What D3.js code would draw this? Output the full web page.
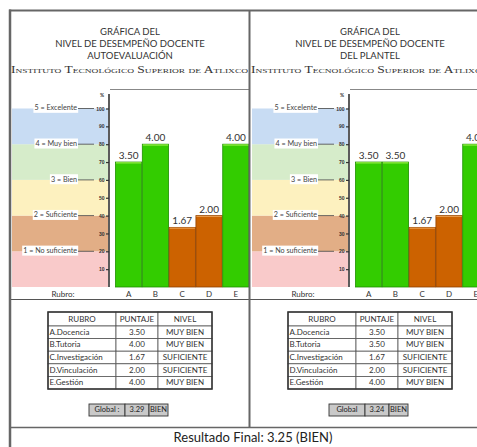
<!DOCTYPE html>
<html lang="es">
<head>
<meta charset="UTF-8" />
<script src="https://d3js.org/d3.v7.min.js"></script>
<style>
  body { margin: 0; background: #fff; }
  svg { display: block; font-family: Lato, "Open Sans", sans-serif; }
</style>
</head>
<body>
<svg id="chart" width="477" height="447"></svg>
<script>
  // data
  const rubros = ["A", "B", "C", "D", "E"];
  const rubroNames = ["A.Docencia", "B.Tutoria", "C.Investigación", "D.Vinculación", "E.Gestión"];
  const autoScores = [3.50, 4.00, 1.67, 2.00, 4.00];
  const autoLevels = ["MUY BIEN", "MUY BIEN", "SUFICIENTE", "SUFICIENTE", "MUY BIEN"];
  const plantelScores = [3.50, 3.50, 1.67, 2.00, 4.00];
  const plantelLevels = ["MUY BIEN", "MUY BIEN", "SUFICIENTE", "SUFICIENTE", "MUY BIEN"];
  const scaleLabels = ["1 = No suficiente", "2 = Suficiente", "3 = Bien", "4 = Muy bien", "5 = Excelente"];
  const scalePercents = [20, 40, 60, 80, 100];
  const yTicks = [10, 20, 30, 40, 50, 60, 70, 80, 90, 100];
  const tableHeader = ["RUBRO", "PUNTAJE", "NIVEL"];
  const globalLabels = ["Global :", "Global"];
  const globalScores = [3.29, 3.24];
  const globalLevels = ["BIEN", "BIEN"];
  const finalScore = 3.25;
  const finalLevel = "BIEN";
  const panelTitles = [
    ["GRÁFICA DEL", "NIVEL DE DESEMPEÑO DOCENTE", "AUTOEVALUACIÓN"],
    ["GRÁFICA DEL", "NIVEL DE DESEMPEÑO DOCENTE", "DEL PLANTEL"]
  ];
  const institute = "Instituto Tecnológico Superior de Atlixco";

  const svg = d3.select("#chart");
  const fmt = d3.format(".2f");
  const bandColors = ["#f9caca", "#e2ae86", "#fdf1bf", "#d6ecca", "#c8dcf3"];
  const levelColor = d3.scaleOrdinal().domain(["MUY BIEN", "SUFICIENTE"]).range(["#33cc00", "#cc6200"]);
  const levelEdge = d3.scaleOrdinal().domain(["MUY BIEN", "SUFICIENTE"]).range(["#1f8f00", "#8f4200"]);
  const levelTop = d3.scaleOrdinal().domain(["MUY BIEN", "SUFICIENTE"]).range(["#9df04a", "#e89a4a"]);

  const panelW = 239;
  const y = d3.scaleLinear().domain([0, 100]).range([287, 108.5]);
  const x = d3.scaleBand().domain(rubros).range([105.5, 239]).paddingInner(0.02);

  svg.append("defs").append("clipPath").attr("id", "panelClip")
    .append("rect").attr("x", 0).attr("y", 0).attr("width", panelW).attr("height", 447);

  function drawPanel(i, scores, levels) {
    const g = svg.append("g")
      .attr("transform", `translate(${10 + i * 240},0)`)
      .attr("clip-path", "url(#panelClip)");

    // titles
    panelTitles[i].forEach((t, k) => {
      g.append("text").attr("x", 120).attr("y", 35 + k * 12)
        .attr("text-anchor", "middle").attr("font-size", 9.5).attr("fill", "#333").text(t);
    });
    g.append("text").attr("x", 1).attr("y", 73)
      .attr("font-family", "'Liberation Serif', serif").attr("font-variant", "small-caps")
      .attr("font-size", 10).attr("fill", "#333")
      .attr("textLength", 237).attr("lengthAdjust", "spacingAndGlyphs")
      .text(institute);

    // colour bands
    scalePercents.forEach((p, k) => {
      g.append("rect").attr("x", 2).attr("width", 96)
        .attr("y", y(p)).attr("height", y(p - 20) - y(p))
        .attr("fill", bandColors[k]);
    });

    // plot top frame
    g.append("line").attr("x1", 100).attr("x2", panelW).attr("y1", 89.5).attr("y2", 89.5)
      .attr("stroke", "#888").attr("stroke-width", 1);

    // level labels with leader lines
    scalePercents.forEach((p, k) => {
      const t = g.append("text").attr("x", 67).attr("y", y(p))
        .attr("text-anchor", "end").attr("dominant-baseline", "middle")
        .attr("font-size", 7.2).attr("fill", "#444").text(scaleLabels[k]);
      const b = t.node().getBBox();
      g.insert("rect", () => t.node()).attr("x", b.x - 1).attr("y", b.y - 0.5)
        .attr("width", b.width + 2).attr("height", b.height + 1).attr("fill", "#fff");
      g.append("line").attr("x1", 68).attr("x2", 84).attr("y1", y(p)).attr("y2", y(p))
        .attr("stroke", "#444").attr("stroke-width", 0.8);
    });

    // y axis
    const axis = g.append("g").attr("transform", "translate(99,0)")
      .call(d3.axisLeft(y).tickValues(yTicks).tickSize(3).tickPadding(1.5));
    axis.select(".domain").remove();
    axis.selectAll("text").attr("font-size", 5).attr("font-weight", "bold").attr("fill", "#333");
    axis.selectAll("line").attr("stroke", "#333").attr("stroke-width", 1.2);
    g.append("line").attr("x1", 99).attr("x2", 99).attr("y1", 94).attr("y2", 287)
      .attr("stroke", "#333").attr("stroke-width", 1.6);
    g.append("text").attr("x", 90).attr("y", 97).attr("font-size", 5)
      .attr("font-weight", "bold").attr("fill", "#333").text("%");

    // bars
    const data = rubros.map((r, k) => ({ r, v: scores[k], lvl: levels[k] }));
    g.selectAll("rect.bar").data(data).join("rect").attr("class", "bar")
      .attr("x", d => x(d.r)).attr("width", x.bandwidth())
      .attr("y", d => y(d.v * 20)).attr("height", d => y(0) - y(d.v * 20))
      .attr("fill", d => levelColor(d.lvl))
      .attr("stroke", d => levelEdge(d.lvl)).attr("stroke-width", 0.8);
    g.selectAll("line.bartop").data(data).join("line").attr("class", "bartop")
      .attr("x1", d => x(d.r) + 0.5).attr("x2", d => x(d.r) + x.bandwidth() - 0.5)
      .attr("y1", d => y(d.v * 20) + 0.8).attr("y2", d => y(d.v * 20) + 0.8)
      .attr("stroke", d => levelTop(d.lvl)).attr("stroke-width", 1.2);
    g.selectAll("text.val").data(data).join("text").attr("class", "val")
      .attr("x", d => x(d.r) + x.bandwidth() / 2).attr("y", d => y(d.v * 20) - 3)
      .attr("text-anchor", "middle").attr("font-size", 10).attr("fill", "#333")
      .text(d => fmt(d.v));

    // category row
    g.append("text").attr("x", 53).attr("y", 297).attr("text-anchor", "middle")
      .attr("font-size", 8).attr("fill", "#333").text("Rubro:");
    g.selectAll("text.cat").data(rubros).join("text").attr("class", "cat")
      .attr("x", d => x(d) + x.bandwidth() / 2).attr("y", 297)
      .attr("text-anchor", "middle").attr("font-size", 8).attr("fill", "#333").text(d => d);
    g.append("line").attr("x1", 0).attr("x2", panelW).attr("y1", 299.5).attr("y2", 299.5)
      .attr("stroke", "#555").attr("stroke-width", 1);

    // table
    const colX = [38, 106, 148, 202];
    const rowY = [312, 326].concat(d3.range(1, 5).map(k => 326 + k * 12.6)).concat([389]);
    const rows = [tableHeader].concat(rubros.map((r, k) => [rubroNames[k], fmt(scores[k]), levels[k]]));
    rows.forEach((row, ri) => {
      row.forEach((cell, ci) => {
        g.append("rect").attr("x", colX[ci]).attr("y", rowY[ri])
          .attr("width", colX[ci + 1] - colX[ci]).attr("height", rowY[ri + 1] - rowY[ri])
          .attr("fill", "#fff").attr("stroke", "#555").attr("stroke-width", 0.8);
        const left = ri > 0 && ci === 0;
        g.append("text")
          .attr("x", left ? colX[ci] + 1.5 : (colX[ci] + colX[ci + 1]) / 2)
          .attr("y", (rowY[ri] + rowY[ri + 1]) / 2 + 0.5)
          .attr("text-anchor", left ? "start" : "middle").attr("dominant-baseline", "middle")
          .attr("font-size", 8).attr("fill", "#333").text(cell);
      });
    });
    g.append("rect").attr("x", colX[0]).attr("y", rowY[0])
      .attr("width", colX[3] - colX[0]).attr("height", rowY[6] - rowY[0])
      .attr("fill", "none").attr("stroke", "#333").attr("stroke-width", 1.5);

    // global box
    const gx = [79, 115, 139, 158];
    const gcells = [globalLabels[i], fmt(globalScores[i]), globalLevels[i]];
    gcells.forEach((c, ci) => {
      g.append("rect").attr("x", gx[ci]).attr("y", 404).attr("width", gx[ci + 1] - gx[ci]).attr("height", 12)
        .attr("fill", "#c9c9c9").attr("stroke", "#333").attr("stroke-width", 0.9);
      g.append("text").attr("x", (gx[ci] + gx[ci + 1]) / 2).attr("y", 410.5)
        .attr("text-anchor", "middle").attr("dominant-baseline", "middle")
        .attr("font-size", 7.5).attr("fill", "#222").text(c);
    });
  }

  drawPanel(0, autoScores, autoLevels);
  drawPanel(1, plantelScores, plantelLevels);

  // frame
  const frame = svg.append("g").attr("stroke", "#666").attr("fill", "none");
  frame.append("line").attr("x1", 9).attr("x2", 477).attr("y1", 10.5).attr("y2", 10.5).attr("stroke-width", 2);
  frame.append("line").attr("x1", 10).attr("x2", 10).attr("y1", 9.5).attr("y2", 447).attr("stroke-width", 2.5);
  frame.append("line").attr("x1", 249.5).attr("x2", 249.5).attr("y1", 10).attr("y2", 427).attr("stroke-width", 2);
  frame.append("line").attr("x1", 10).attr("x2", 477).attr("y1", 427.5).attr("y2", 427.5).attr("stroke-width", 1.5);

  svg.append("text").attr("x", 253).attr("y", 442).attr("text-anchor", "middle")
    .attr("font-size", 13).attr("fill", "#222")
    .text(`Resultado Final: ${fmt(finalScore)} (${finalLevel})`);
</script>
</body>
</html>
